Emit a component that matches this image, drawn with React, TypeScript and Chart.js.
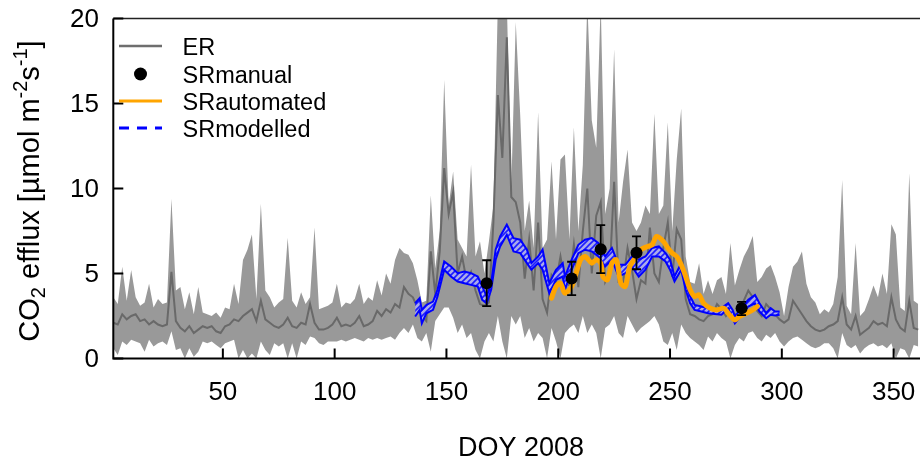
import React, { useEffect, useRef } from 'react';
import { Chart, registerables } from 'chart.js';
Chart.register(...registerables);

// ---------- data ----------
const erDoy = [1,3,5,7,9,11,13,15,17,19,21,23,25,27,29,31,33,35,37,39,41,43,45,47,49,51,53,55,57,59,61,63,65,67,69,71,73,75,77,79,81,83,85,87,89,91,93,95,97,99,101,103,105,107,109,111,113,115,117,119,121,123,125,127,129,131,133,135,137,139,141,143,145,147,149,151,153,155,157,159,161,163,165,167,169,171,173,175,177,179,181,183,185,187,189,191,193,195,197,199,201,203,205,207,209,211,213,215,217,219,221,223,225,227,229,231,233,235,237,239,241,243,245,247,249,251,253,255,257,259,261,263,265,267,269,271,273,275,277,279,281,283,285,287,289,291,293,295,297,299,301,303,305,307,309,311,313,315,317,319,321,323,325,327,329,331,333,335,337,339,341,343,345,347,349,351,353,355,357,359,361];

const erHi = [
  3.6, 3.2, 5.4, 3.4, 5.2,  3.6, 3.1, 3.3, 4.4, 3.0,  3.5, 3.2, 3.3, 9.4, 4.0,
  4.2, 2.9, 3.9, 2.6, 4.2,  2.7, 2.6, 2.5, 2.7, 2.4,  3.0, 2.9, 4.4, 3.2, 5.8,
  6.4, 7.3, 3.5, 9.1, 4.0,  3.6, 3.0, 3.3, 3.5, 7.1,  3.4, 3.0, 3.9, 3.2, 3.6,
  7.7, 2.9, 3.0, 3.1, 3.3,  4.4, 3.0, 3.3, 3.2, 3.5,  4.4, 3.2, 3.6, 3.4, 4.6,
  3.7, 5.0, 4.4, 5.8, 6.5,  6.2, 6.1, 5.6, 4.6, 3.3,  3.4, 9.6, 5.3, 7.5, 16.4,
  9.0, 11.0, 7.0, 6.5, 6.0,  11.4, 6.0, 6.9, 5.0, 6.9,  9.0, 21, 21, 21, 10.0,
  19.8, 14.3, 7.5, 9.3, 6.5,  14.5, 6.5, 7.0, 11.6, 7.0,  11.7, 12.0, 7.0, 13.6, 7.5,
  11.4, 21, 14.0, 12.4, 21,  8.5, 10.0, 18.2, 8.0, 10.4,  12.3, 8.0, 7.5, 8.0, 9.0,
  8.5, 14.4, 8.5, 9.0, 13.9,  7.5, 11.7, 14.7, 6.0, 4.5,  4.4, 5.6, 3.8, 4.6, 3.8,
  4.6, 4.8, 3.8, 6.8, 4.3,  5.2, 6.0, 6.5, 7.2, 4.5,  4.8, 5.3, 5.5, 4.8, 3.9,
  2.5, 4.2, 5.4, 5.7, 6.3,  4.4, 3.6, 3.3, 2.6, 2.9,  2.7, 3.2, 4.8, 10.5, 3.1,
  2.6, 6.8, 2.5, 2.8, 3.5,  4.3, 3.6, 5.0, 3.8, 7.9,  7.3, 3.0, 2.8, 10.9, 3.4,
  3.2
];

const erMed = [
  2.1, 2.0, 2.6, 2.3, 2.5,  2.6, 2.2, 2.3, 2.0, 2.2,  2.0, 1.9, 2.0, 5.1, 2.2,
  1.8, 1.6, 1.9, 1.5, 1.7,  1.9, 1.8, 1.9, 1.6, 1.5,  1.9, 2.0, 2.3, 2.2, 2.5,
  2.7, 2.9, 2.2, 3.4, 2.3,  2.1, 1.9, 1.8, 2.0, 2.4,  1.9, 1.8, 2.1, 2.0, 3.2,
  2.1, 1.7, 1.7, 1.8, 2.0,  2.4, 1.9, 2.0, 1.9, 2.1,  2.5, 1.9, 2.0, 2.2, 2.8,
  2.5, 2.9, 2.7, 3.2, 3.0,  4.2, 3.8, 3.6, 3.0, 2.5,  2.2, 6.3, 3.8, 6.3, 11.2,
  8.5, 9.8, 5.0, 6.0, 4.6,  5.1, 4.0, 3.2, 3.1, 3.3,  8.0, 15.5, 11.8, 18.9, 9.5,
  9.2, 8.0, 4.7, 7.0, 4.0,  8.0, 3.5, 2.7, 4.9, 4.5,  6.0, 4.5, 4.3, 6.7, 4.2,
  7.5, 10.0, 5.0, 8.4, 9.2,  4.5, 5.0, 10.4, 4.5, 4.5,  6.5, 5.2, 3.5, 4.6, 4.4,
  7.7, 5.0, 4.5, 6.5, 8.0,  4.8, 7.6, 7.0, 3.5, 2.6,  2.5, 2.3, 2.2, 2.5, 2.6,
  3.2, 2.9, 2.5, 2.8, 2.6,  2.7, 3.4, 4.0, 3.6, 2.8,  2.5, 3.2, 2.9, 2.6, 2.3,
  2.1, 2.3, 3.4, 3.0, 2.6,  2.2, 1.9, 1.7, 1.6, 1.7,  1.9, 2.0, 2.2, 3.6, 2.0,
  1.7, 2.5, 1.4, 1.6, 1.8,  2.2, 2.0, 2.1, 1.9, 3.6,  2.3, 1.8, 1.6, 3.4, 1.8,
  1.7
];

const erLo = [
  0.6, 0.2, 1.0, 0.8, 1.1,  1.0, 0.9, 0.4, 1.1, 0.7,  0.9, 1.0, 0.8, 1.6, 0.5,
  0.6, 0.0, 0.6, 0.1, 0.4,  1.0, 0.9, 1.0, 0.8, 0.6,  0.9, 1.0, 1.1, 0.0, 0.5,
  0.0, 0.3, 0.0, 1.0, 0.5,  0.2, 0.9, 0.7, 0.9, 0.0,  0.9, 0.0, 1.0, 0.8, 1.3,
  1.2, 0.9, 0.8, 1.0, 1.0,  1.0, 1.1, 1.0, 1.1, 1.2,  1.1, 1.0, 1.2, 1.1, 1.2,
  1.1, 1.2, 1.3, 1.1, 1.5,  1.8, 1.5, 2.0, 1.2, 1.0,  1.5, 0.4, 2.2, 2.6, 3.0,
  3.0, 2.4, 1.5, 2.0, 1.2,  1.5, 0.5, 0.0, 1.0, 1.5,  1.0, 2.5, 1.0, 0.0, 2.5,
  2.0, 2.5, 1.2, 1.8, 1.0,  1.5, 1.2, 0.0, 1.8, 1.0,  0.0, 1.5, 1.8, 2.0, 1.5,
  2.5, 1.5, 2.0, 1.5, 0.0,  1.8, 2.0, 2.5, 1.5, 1.2,  2.5, 2.0, 1.5, 1.8, 2.0,
  2.2, 2.5, 2.0, 1.0, 0.8,  1.5, 0.5, 2.0, 1.5, 1.2,  1.0, 0.8, 0.5, 1.3, 1.0,
  1.5, 1.2, 1.0, 0.0, 0.8,  1.2, 1.0, 1.5, 1.6, 1.2,  1.0, 1.4, 1.2, 1.5, 1.0,
  0.7, 1.0, 1.2, 1.3, 1.1,  0.9, 0.7, 0.6, 0.7, 0.9,  0.9, 0.6, 0.0, 1.5, 0.8,
  0.6, 0.8, 0.3, 0.6, 0.8,  0.9, 0.7, 0.8, 0.6, 0.9,  0.0, 0.6, 0.5, 0.0, 0.8,
  0.7
];

const modDoy = [136,138,139,141,144,146,149,152,155,158,161,164,166,168,170,172,174,177,180,183,186,188,191,193,196,199,202,203,206,209,212,215,218,221,224,227,230,233,236,239,242,245,248,250,252,255,257,259,261,264,267,270,273,276,278,279,282,285,288,290,293,295,297,299];
const modHi = [3.25,3.55,2.86,3.15,3.35,4.04,5.71,5.41,5.02,5.12,5.02,4.82,4.24,3.65,4.43,6.40,7.18,7.87,7.08,6.99,6.40,5.61,6.00,6.40,4.43,5.22,5.61,4.82,5.81,6.69,6.99,7.08,6.79,6.00,6.50,5.51,5.51,6.00,5.81,6.00,6.50,6.59,6.20,5.81,4.82,5.61,4.43,3.65,3.15,3.06,2.96,2.86,2.96,3.25,2.86,2.47,2.96,3.45,3.74,3.25,2.66,2.96,2.76,2.76];
const modLo = [2.47,2.86,2.07,2.66,2.86,3.65,5.22,4.82,4.53,4.43,4.33,4.24,3.45,3.25,4.04,5.81,6.59,7.28,6.30,6.20,5.61,5.22,5.61,5.22,3.84,4.63,4.82,4.04,5.22,6.20,6.40,6.30,6.00,5.41,5.81,4.82,5.02,5.41,4.82,5.22,6.00,6.00,5.71,5.22,4.53,5.22,4.04,3.25,2.86,2.76,2.66,2.62,2.57,2.96,2.37,2.07,2.57,3.06,3.25,2.76,2.37,2.57,2.53,2.57];

const autoDoy = [197,199,201,203,206,208,210,212,215,217,219,220,222,224,226,228,230,232,235,237,240,242,244,247,249,251,253,255,257,259,261,263,265,268,271,274,276,279,281,284,287,289];
const autoVal = [3.55,4.24,4.43,3.84,4.24,5.02,5.81,6.00,5.61,5.81,5.61,4.82,4.63,5.61,5.81,4.43,4.24,5.41,6.00,6.40,6.59,6.69,7.18,6.89,6.50,6.20,6.00,5.51,4.82,4.04,3.65,3.74,3.25,2.96,2.86,2.96,2.66,2.27,2.47,2.66,2.86,3.06];

const manDoy = [168, 206, 219, 235, 282];
const manVal = [4.43, 4.71, 6.43, 6.22, 2.96];
const manLo = [3.08, 3.73, 5.02, 5.25, 2.55];
const manHi = [5.78, 5.69, 7.84, 7.18, 3.33];

const xTicks = [50, 100, 150, 200, 250, 300, 350];
const yTicks = [0, 5, 10, 15, 20];
const legendLabels = ['ER', 'SRmanual', 'SRautomated', 'SRmodelled'];
const xTitle = 'DOY 2008';

// ---------- helpers ----------
const FONT = '"Liberation Sans", Arial, Helvetica, sans-serif';
const pts = (xs: number[], ys: number[]) => xs.map((x, i) => ({ x, y: ys[i] }));

function makeHatch(ctx: CanvasRenderingContext2D) {
  const s = 6;
  const pc = document.createElement('canvas');
  pc.width = s; pc.height = s;
  const p = pc.getContext('2d')!;
  p.fillStyle = 'rgb(170,170,235)';
  p.fillRect(0, 0, s, s);
  p.strokeStyle = 'rgb(30,30,255)';
  p.lineWidth = 1.6;
  p.beginPath();
  p.moveTo(0, s); p.lineTo(s, 0);
  p.moveTo(-s / 2, s / 2); p.lineTo(s / 2, -s / 2);
  p.moveTo(s / 2, s * 1.5); p.lineTo(s * 1.5, s / 2);
  p.stroke();
  return ctx.createPattern(pc, 'repeat')!;
}

const errorBars = {
  id: 'errorBars',
  afterDatasetsDraw(chart: any) {
    const { ctx, scales: { x, y } } = chart;
    ctx.save();
    ctx.strokeStyle = '#000';
    ctx.lineWidth = 1.8;
    manDoy.forEach((d, i) => {
      const px = x.getPixelForValue(d);
      const pl = y.getPixelForValue(manLo[i]);
      const ph = y.getPixelForValue(manHi[i]);
      ctx.beginPath();
      ctx.moveTo(px, pl); ctx.lineTo(px, ph);
      ctx.moveTo(px - 4.5, pl); ctx.lineTo(px + 4.5, pl);
      ctx.moveTo(px - 4.5, ph); ctx.lineTo(px + 4.5, ph);
      ctx.stroke();
    });
    ctx.restore();
  },
};

const decor = {
  id: 'decor',
  afterDraw(chart: any) {
    const { ctx, chartArea: a, scales: { x, y } } = chart;
    ctx.save();
    // frame
    ctx.strokeStyle = '#000';
    ctx.lineWidth = 2;
    ctx.beginPath();
    ctx.moveTo(a.left, a.top); ctx.lineTo(a.left, a.bottom); ctx.lineTo(a.right + 2, a.bottom);
    ctx.stroke();
    ctx.strokeStyle = '#222';
    ctx.lineWidth = 1.6;
    ctx.beginPath();
    ctx.moveTo(a.left, a.top); ctx.lineTo(a.right + 2, a.top);
    ctx.stroke();
    // ticks (inward)
    ctx.strokeStyle = '#000';
    ctx.lineWidth = 2;
    ctx.beginPath();
    xTicks.forEach(t => {
      const px = x.getPixelForValue(t);
      ctx.moveTo(px, a.bottom); ctx.lineTo(px, a.bottom - 10);
    });
    yTicks.forEach(t => {
      const py = y.getPixelForValue(t);
      ctx.moveTo(a.left, py); ctx.lineTo(a.left + 10, py);
    });
    ctx.stroke();
    // tick labels
    ctx.fillStyle = '#000';
    ctx.font = '26px ' + FONT;
    ctx.textAlign = 'center';
    ctx.textBaseline = 'alphabetic';
    xTicks.forEach(t => ctx.fillText(String(t), x.getPixelForValue(t), 400));
    ctx.textAlign = 'right';
    ctx.textBaseline = 'middle';
    yTicks.forEach(t => ctx.fillText(String(t), 99, y.getPixelForValue(t) + 1));
    // x title
    ctx.font = '27px ' + FONT;
    ctx.textAlign = 'center';
    ctx.textBaseline = 'alphabetic';
    ctx.fillText(xTitle, 521, 456);
    // y title with sub/superscripts
    const big = '29px ' + FONT;
    const small = '20px ' + FONT;
    const parts = [
      { t: 'CO', f: big, dy: 0 },
      { t: '2', f: small, dy: 6 },
      { t: ' efflux [µmol m', f: big, dy: 0 },
      { t: '-2', f: small, dy: -12 },
      { t: 's', f: big, dy: 0 },
      { t: '-1', f: small, dy: -12 },
      { t: ']', f: big, dy: 0 },
    ];
    let total = 0;
    parts.forEach(p => { ctx.font = p.f; total += ctx.measureText(p.t).width; });
    ctx.translate(39, 191);
    ctx.rotate(-Math.PI / 2);
    ctx.textAlign = 'left';
    let cx = -total / 2;
    parts.forEach(p => {
      ctx.font = p.f;
      ctx.fillText(p.t, cx, p.dy);
      cx += ctx.measureText(p.t).width;
    });
    ctx.setTransform(1, 0, 0, 1, 0, 0);
    // legend
    const lx0 = 119, lx1 = 162, tx = 182.5;
    const rows = [46, 74, 101, 128];
    ctx.lineWidth = 2.5;
    ctx.strokeStyle = 'rgb(110,110,110)';
    ctx.beginPath(); ctx.moveTo(lx0, rows[0]); ctx.lineTo(lx1, rows[0]); ctx.stroke();
    ctx.fillStyle = '#000';
    ctx.beginPath(); ctx.arc((lx0 + lx1) / 2, rows[1], 6.5, 0, Math.PI * 2); ctx.fill();
    ctx.lineWidth = 3;
    ctx.strokeStyle = 'rgb(255,165,0)';
    ctx.beginPath(); ctx.moveTo(lx0, rows[2]); ctx.lineTo(lx1, rows[2]); ctx.stroke();
    ctx.strokeStyle = 'rgb(0,0,255)';
    ctx.setLineDash([10, 8]);
    ctx.beginPath(); ctx.moveTo(lx0, rows[3]); ctx.lineTo(lx1, rows[3]); ctx.stroke();
    ctx.setLineDash([]);
    ctx.font = '23.5px ' + FONT;
    ctx.textAlign = 'left';
    ctx.textBaseline = 'alphabetic';
    ctx.fillStyle = '#000';
    legendLabels.forEach((l, i) => ctx.fillText(l, tx, rows[i] + 9.2));
    ctx.restore();
  },
};

export default function App() {
  const ref = useRef<HTMLCanvasElement>(null);
  useEffect(() => {
    const canvas = ref.current!;
    const ctx = canvas.getContext('2d')!;
    const hatch = makeHatch(ctx);
    const chart = new Chart(ctx, {
      type: 'line',
      data: {
        datasets: [
          { label: 'ERlo', data: pts(erDoy, erLo), borderWidth: 0, pointRadius: 0, fill: false, order: 10 },
          { label: 'ERhi', data: pts(erDoy, erHi), borderWidth: 0, pointRadius: 0, fill: '-1', backgroundColor: 'rgb(153,153,153)', order: 9 },
          { label: 'ER', data: pts(erDoy, erMed), borderColor: 'rgb(105,105,105)', borderWidth: 2, pointRadius: 0, fill: false, order: 8 },
          { label: 'SRmodlo', data: pts(modDoy, modLo), borderColor: 'rgb(0,0,255)', borderWidth: 2, pointRadius: 0, fill: false, order: 6 },
          { label: 'SRmodelled', data: pts(modDoy, modHi), borderColor: 'rgb(0,0,255)', borderWidth: 2, pointRadius: 0, fill: '-1', backgroundColor: hatch as any, order: 7 },
          { label: 'SRautomated', data: pts(autoDoy, autoVal), borderColor: 'rgb(255,165,0)', borderWidth: 5, pointRadius: 0, fill: false, tension: 0.3, borderJoinStyle: 'round', borderCapStyle: 'round', order: 5 },
          { label: 'SRmanual', data: pts(manDoy, manVal), showLine: false, pointRadius: 6, pointBackgroundColor: '#000', pointBorderWidth: 0, fill: false, order: 4 },
        ] as any,
      },
      options: {
        responsive: false,
        animation: false,
        events: [],
        layout: { autoPadding: false, padding: { left: 113.3, right: 0, top: 18.5, bottom: 100.5 } },
        scales: {
          x: { type: 'linear', min: 1, max: 361.8, display: false },
          y: { type: 'linear', min: 0, max: 20, display: false },
        },
        plugins: { legend: { display: false }, tooltip: { enabled: false }, filler: { propagate: false } },
      },
      plugins: [errorBars, decor],
    });
    return () => chart.destroy();
  }, []);
  return (
    <canvas ref={ref} width={920} height={459} style={{ position: 'fixed', left: 0, top: 0, display: 'block' }} />
  );
}
